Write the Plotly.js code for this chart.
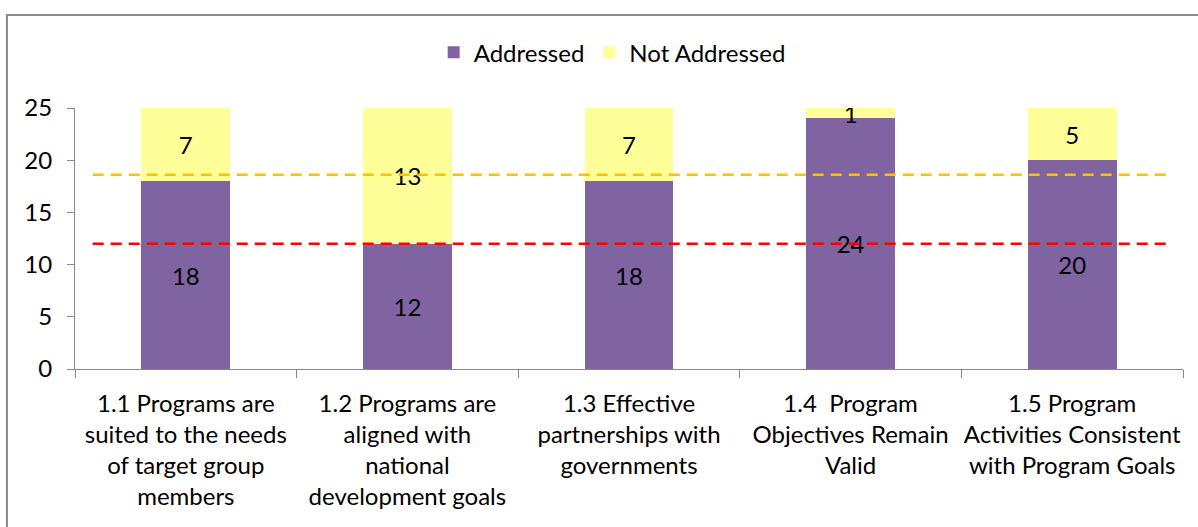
<!DOCTYPE html>
<html>
<head>
<meta charset="utf-8">
<script src="https://cdn.plot.ly/plotly-3.0.1.min.js"></script>
<style>html,body{margin:0;padding:0;background:#fff;}#chart{width:1198px;height:527px;}</style>
</head>
<body>
<div id="chart"></div>
<script>
const categories = [
  "1.1 Programs are<br>suited to the needs<br>of target group<br>members",
  "1.2 Programs are<br>aligned with<br>national<br>development goals",
  "1.3 Effective<br>partnerships with<br>governments",
  "1.4  Program<br>Objectives Remain<br>Valid",
  "1.5 Program<br>Activities Consistent<br>with Program Goals"
];
const addressed = [18, 12, 18, 24, 20];
const notAddressed = [7, 13, 7, 1, 5];
const upperLine = 18.6;
const lowerLine = 12;
const yTicks = [0, 5, 10, 15, 20, 25];

const FONT = "Lato, 'Noto Sans', sans-serif";
const FS = 24;

const traces = [
  {
    type: 'bar', name: 'Addressed', x: categories, y: addressed,
    marker: {color: '#8064A2'},
    text: addressed.map(String), textposition: 'inside', insidetextanchor: 'middle',
    constraintext: 'none', textangle: 0,
    textfont: {family: FONT, size: FS, color: '#000'}, hoverinfo: 'x+y'
  },
  {
    type: 'bar', name: 'Not Addressed', x: categories, y: notAddressed,
    marker: {color: '#FFFF99'},
    text: notAddressed.map(String), textposition: 'inside', insidetextanchor: 'middle',
    constraintext: 'none', textangle: 0,
    textfont: {family: FONT, size: FS, color: '#000'}, hoverinfo: 'x+y'
  }
];

const layout = {
  width: 1198, height: 527,
  margin: {l: 75, r: 15, t: 108, b: 158},
  paper_bgcolor: '#fff', plot_bgcolor: '#fff',
  barmode: 'stack', bargap: 0.6,
  font: {family: FONT, size: FS, color: '#000'},
  showlegend: true,
  legend: {
    orientation: 'h', xref: 'container', yref: 'container',
    x: 0.511, xanchor: 'center', y: 0.9, yanchor: 'middle',
    font: {family: FONT, size: FS, color: '#000'}, traceorder: 'normal'
  },
  xaxis: {
    type: 'category', showline: true, linecolor: '#888', linewidth: 1,
    ticks: 'outside', tickson: 'boundaries', ticklen: 8, tickcolor: '#888',
    showgrid: false, zeroline: false, ticklabelstandoff: 13, tickangle: 0,
    tickfont: {family: FONT, size: FS, color: '#000'}
  },
  yaxis: {
    range: [0, 25], tickvals: yTicks, showline: true, linecolor: '#888', linewidth: 1,
    ticks: 'outside', ticklen: 7, tickcolor: '#888', showgrid: false, zeroline: false,
    ticklabelstandoff: 10,
    tickfont: {family: FONT, size: FS, color: '#000'}
  },
  shapes: [
    {type: 'line', xref: 'x', yref: 'y', x0: -0.42, x1: 4.45, y0: upperLine, y1: upperLine,
     line: {color: '#FFC000', width: 2.5, dash: '11px,7px'}},
    {type: 'line', xref: 'x', yref: 'y', x0: -0.42, x1: 4.45, y0: lowerLine, y1: lowerLine,
     line: {color: '#FF0000', width: 2.5, dash: '11px,7px'}},
    {type: 'rect', xref: 'paper', yref: 'paper', x0: -0.0614, x1: 1.06, y0: -0.7, y1: 1.356,
     line: {color: '#8a8a8a', width: 2}, fillcolor: 'rgba(0,0,0,0)', layer: 'below'}
  ]
};

Plotly.newPlot('chart', traces, layout, {displayModeBar: false, staticPlot: true});
</script>
</body>
</html>
